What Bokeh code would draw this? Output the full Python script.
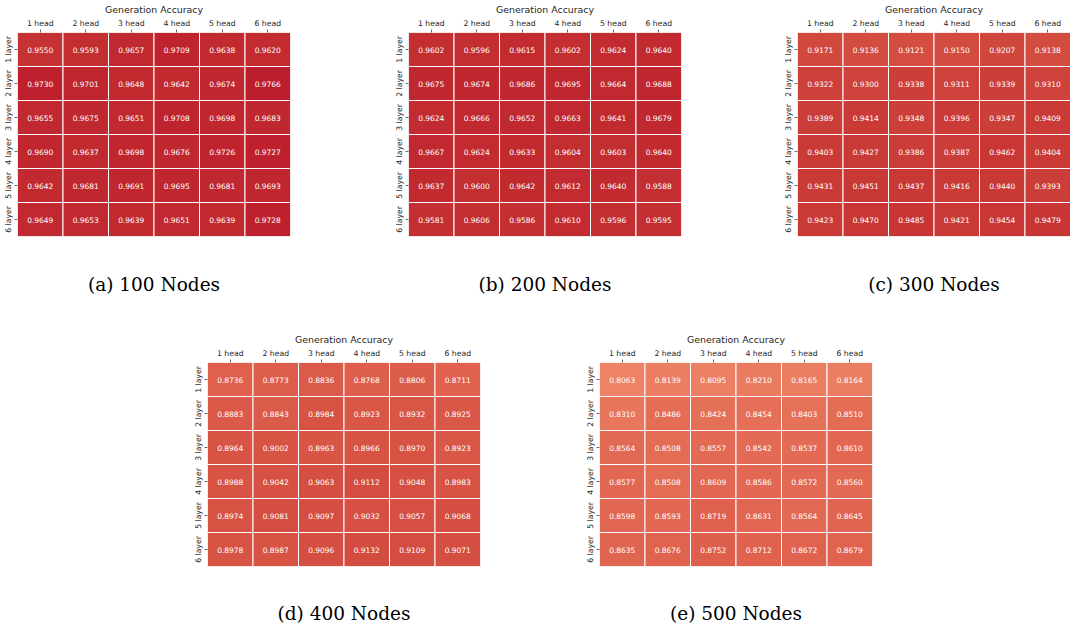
import numpy as np
from bokeh.plotting import figure
from bokeh.layouts import column, row
from bokeh.models import ColumnDataSource, LinearColorMapper
from bokeh.transform import transform
from bokeh.embed import file_html
from bokeh.resources import INLINE

heads = ["1 head", "2 head", "3 head", "4 head", "5 head", "6 head"]
layers = ["1 layer", "2 layer", "3 layer", "4 layer", "5 layer", "6 layer"]

acc_100 = [[0.9550, 0.9593, 0.9657, 0.9709, 0.9638, 0.9620],
           [0.9730, 0.9701, 0.9648, 0.9642, 0.9674, 0.9766],
           [0.9655, 0.9675, 0.9651, 0.9708, 0.9698, 0.9683],
           [0.9690, 0.9637, 0.9698, 0.9676, 0.9726, 0.9727],
           [0.9642, 0.9681, 0.9691, 0.9695, 0.9681, 0.9693],
           [0.9649, 0.9653, 0.9639, 0.9651, 0.9639, 0.9728]]
acc_200 = [[0.9602, 0.9596, 0.9615, 0.9602, 0.9624, 0.9640],
           [0.9675, 0.9674, 0.9686, 0.9695, 0.9664, 0.9688],
           [0.9624, 0.9666, 0.9652, 0.9663, 0.9641, 0.9679],
           [0.9667, 0.9624, 0.9633, 0.9604, 0.9603, 0.9640],
           [0.9637, 0.9600, 0.9642, 0.9612, 0.9640, 0.9588],
           [0.9581, 0.9606, 0.9586, 0.9610, 0.9596, 0.9595]]
acc_300 = [[0.9171, 0.9136, 0.9121, 0.9150, 0.9207, 0.9138],
           [0.9322, 0.9300, 0.9338, 0.9311, 0.9339, 0.9310],
           [0.9389, 0.9414, 0.9348, 0.9396, 0.9347, 0.9409],
           [0.9403, 0.9427, 0.9386, 0.9387, 0.9462, 0.9404],
           [0.9431, 0.9451, 0.9437, 0.9416, 0.9440, 0.9393],
           [0.9423, 0.9470, 0.9485, 0.9421, 0.9454, 0.9479]]
acc_400 = [[0.8736, 0.8773, 0.8836, 0.8768, 0.8806, 0.8711],
           [0.8883, 0.8843, 0.8984, 0.8923, 0.8932, 0.8925],
           [0.8964, 0.9002, 0.8963, 0.8966, 0.8970, 0.8923],
           [0.8988, 0.9042, 0.9063, 0.9112, 0.9048, 0.8983],
           [0.8974, 0.9081, 0.9097, 0.9032, 0.9057, 0.9068],
           [0.8978, 0.8987, 0.9096, 0.9132, 0.9109, 0.9071]]
acc_500 = [[0.8063, 0.8139, 0.8095, 0.8210, 0.8165, 0.8164],
           [0.8310, 0.8486, 0.8424, 0.8454, 0.8403, 0.8510],
           [0.8564, 0.8508, 0.8557, 0.8542, 0.8537, 0.8610],
           [0.8577, 0.8508, 0.8609, 0.8586, 0.8572, 0.8560],
           [0.8598, 0.8593, 0.8719, 0.8631, 0.8564, 0.8645],
           [0.8635, 0.8676, 0.8752, 0.8712, 0.8672, 0.8679]]

captions = ["(a) 100 Nodes", "(b) 200 Nodes", "(c) 300 Nodes",
            "(d) 400 Nodes", "(e) 500 Nodes"]
plot_title = "Generation Accuracy"

# upper half of the "coolwarm" diverging map (Moreland), value -> RGB
cw_pos = [0.5, 0.53125, 0.5625, 0.59375, 0.625, 0.65625, 0.6875, 0.71875, 0.75,
          0.78125, 0.8125, 0.84375, 0.875, 0.90625, 0.9375, 0.96875, 1.0]
cw_rgb = [(221, 221, 221), (229, 216, 209), (236, 211, 197), (241, 204, 185),
          (245, 196, 173), (247, 187, 160), (247, 177, 148), (247, 166, 135),
          (244, 154, 123), (241, 141, 111), (236, 127, 99), (229, 112, 88),
          (222, 96, 77), (213, 80, 66), (203, 62, 56), (192, 40, 47), (180, 4, 38)]


def build_palette(n=256):
    t = np.linspace(0.5, 1.0, n)
    arr = np.array(cw_rgb, dtype=float)
    out = []
    for v in t:
        r, g, b = (np.interp(v, cw_pos, arr[:, k]) for k in range(3))
        out.append("#%02x%02x%02x" % (int(round(r)), int(round(g)), int(round(b))))
    return out


mapper = LinearColorMapper(palette=build_palette(), low=0.5, high=1.0)

FW, FH = 273, 204
TOP = 26


def make(acc, caption, left, right, bottom, standoff):
    xs, ys, vals, labels = [], [], [], []
    for i, lay in enumerate(layers):
        for j, hd in enumerate(heads):
            xs.append(hd)
            ys.append(lay)
            vals.append(acc[i][j])
            labels.append(f"{acc[i][j]:.4f}")
    src = ColumnDataSource(dict(x=xs, y=ys, v=vals, t=labels))
    p = figure(x_range=heads, y_range=layers[::-1], frame_width=FW, frame_height=FH,
               x_axis_location="above", toolbar_location=None, output_backend="svg",
               min_border_left=left, min_border_right=right,
               min_border_top=TOP, min_border_bottom=bottom,
               title=caption, title_location="below")
    p.rect(x="x", y="y", width=1, height=1, source=src,
           fill_color=transform("v", mapper), line_color="white", line_width=1)
    p.text(x="x", y="y", text="t", source=src, text_align="center",
           text_baseline="middle", text_color="white", text_font_size="7.5px",
           text_font={"value": "DejaVu Sans"})
    p.outline_line_color = None
    p.grid.grid_line_color = None
    p.background_fill_color = "white"
    p.border_fill_color = "white"
    for ax in (p.xaxis[0], p.yaxis[0]):
        ax.axis_line_color = None
        ax.major_tick_in = 0
        ax.major_tick_out = 3
        ax.major_tick_line_color = "#444444"
        ax.major_tick_line_width = 0.8
        ax.minor_tick_line_color = None
        ax.major_label_text_font = "DejaVu Sans"
        ax.major_label_text_font_size = "7.7px"
        ax.major_label_text_color = "#262626"
        ax.major_label_standoff = 2
    p.yaxis[0].major_label_orientation = "vertical"
    p.xaxis[0].axis_label = plot_title
    p.xaxis[0].axis_label_text_font = "DejaVu Sans"
    p.xaxis[0].axis_label_text_font_size = "9.4px"
    p.xaxis[0].axis_label_text_font_style = "normal"
    p.xaxis[0].axis_label_text_color = "#262626"
    p.xaxis[0].axis_label_standoff = 1
    p.title.align = "center"
    p.title.text_font = "DejaVu Serif"
    p.title.text_font_size = "18.5px"
    p.title.text_font_style = "normal"
    p.title.text_color = "black"
    p.title.standoff = standoff
    return p


pa = make(acc_100, captions[0], 14, 101, 92, 71)
pb = make(acc_200, captions[1], 14, 99, 92, 71)
pc = make(acc_300, captions[2], 14, 0, 92, 71)
pd = make(acc_400, captions[3], 207, 102, 63, 68)
pe = make(acc_500, captions[4], 14, 10, 63, 68)

layout = column(row(pa, pb, pc), row(pd, pe))

open("out.html", "w").write(file_html(layout, INLINE))
